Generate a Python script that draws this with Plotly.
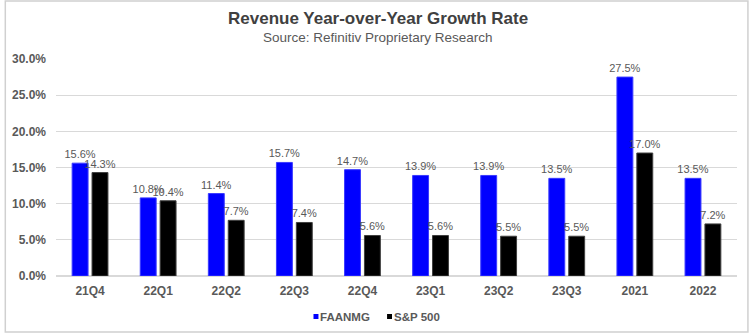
import plotly.graph_objects as go

categories = ["21Q4", "22Q1", "22Q2", "22Q3", "22Q4", "23Q1", "23Q2", "23Q3", "2021", "2022"]
faanmg = [15.6, 10.8, 11.4, 15.7, 14.7, 13.9, 13.9, 13.5, 27.5, 13.5]
sp500 = [14.3, 10.4, 7.7, 7.4, 5.6, 5.6, 5.5, 5.5, 17.0, 7.2]
y_ticks = [0, 5, 10, 15, 20, 25, 30]

FONT = "Liberation Sans, Arial, sans-serif"
LABEL_GRAY = "#595959"
BLUE = "#0000FF"
BLACK = "#000000"

# plot area in pixels
L, R, T, B = 52, 737, 59, 276
W, H = R - L, B - T


def px_x(px):
    return (px - L) / W


def px_y(py):
    return (B - py) / H


fig = go.Figure()
fig.add_trace(go.Bar(
    name="FAANMG", x=categories, y=faanmg, showlegend=False,
    marker=dict(color=BLUE, line=dict(color="#3a3aff", width=1)),
    text=[f"{v:.1f}%" for v in faanmg], textposition="outside", constraintext="none",
    textfont=dict(size=11, color=LABEL_GRAY, family=FONT), cliponaxis=False,
))
fig.add_trace(go.Bar(
    name="S&P 500", x=categories, y=sp500, showlegend=False,
    marker=dict(color=BLACK, line=dict(color="#404040", width=1)),
    text=[f"{v:.1f}%" for v in sp500], textposition="outside", constraintext="none",
    textfont=dict(size=11, color=LABEL_GRAY, family=FONT), cliponaxis=False,
))

annotations = [
    dict(text="<b>Revenue Year-over-Year Growth Rate</b>", xref="paper", yref="paper",
         x=px_x(376), y=px_y(18), xanchor="center", yanchor="middle",
         showarrow=False, font=dict(size=17, color="#404040", family=FONT)),
    dict(text="Source: Refinitiv Proprietary Research", xref="paper", yref="paper",
         x=px_x(376), y=px_y(37), xanchor="center", yanchor="middle",
         showarrow=False, font=dict(size=13.5, color=LABEL_GRAY, family=FONT)),
]
shapes = [dict(type="rect", xref="paper", yref="paper",
               x0=px_x(1), x1=px_x(748), y0=px_y(332), y1=px_y(1),
               line=dict(color="#d0d0d0", width=1.5), fillcolor="rgba(0,0,0,0)")]

# legend: small square key followed by a bold label
for name, color, key_x in [("FAANMG", BLUE, 311), ("S&P 500", BLACK, 385)]:
    shapes.append(dict(type="rect", xref="paper", yref="paper",
                       x0=px_x(key_x), x1=px_x(key_x + 5), y0=px_y(319), y1=px_y(314),
                       fillcolor=color, line=dict(width=0)))
    annotations.append(dict(text=f"<b>{name}</b>", xref="paper", yref="paper",
                            x=px_x(key_x + 5), y=px_y(316.5), xanchor="left", yanchor="middle",
                            showarrow=False, font=dict(size=11.5, color=LABEL_GRAY, family=FONT)))

fig.update_layout(
    width=751, height=334,
    margin=dict(l=L, r=751 - R, t=T, b=334 - B),
    paper_bgcolor="white", plot_bgcolor="white",
    barmode="group", bargap=0.416, bargroupgap=0.2,
    font=dict(family=FONT, color=LABEL_GRAY),
    showlegend=False,
    annotations=annotations,
    shapes=shapes,
)
fig.update_yaxes(range=[0, 30], tickvals=y_ticks,
                 ticktext=[f"<b>{v:.1f}%</b>" for v in y_ticks],
                 tickfont=dict(size=12, color=LABEL_GRAY, family=FONT),
                 gridcolor="#d9d9d9", gridwidth=1, zeroline=True, zerolinecolor="#d9d9d9",
                 showline=False, ticks="", ticklen=0, ticklabelstandoff=9)
fig.update_xaxes(tickvals=categories, ticktext=[f"<b>{c}</b>" for c in categories],
                 tickfont=dict(size=12, color=LABEL_GRAY, family=FONT),
                 showline=False, ticks="", ticklabelstandoff=6)

fig.write_html("out.html")
